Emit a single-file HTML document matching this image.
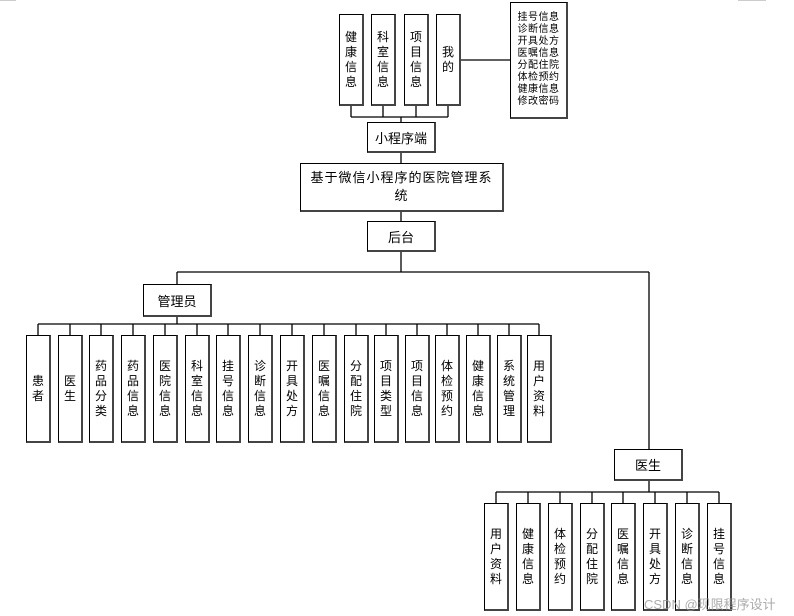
<!DOCTYPE html>
<html><head><meta charset="utf-8"><style>
body{margin:0;width:794px;height:616px;background:#fff;position:relative;overflow:hidden;font-family:"Liberation Sans","Noto Sans CJK SC",sans-serif;color:#000}
.b{position:absolute;box-sizing:border-box;border:1px solid #000;border-right:2px solid #444;border-bottom:2px solid #444;background:#fff;display:flex;align-items:center;justify-content:center;text-align:center}
.v{font-size:12px;line-height:15px;width:12px;word-break:break-all}
.h{font-size:13px}
svg{position:absolute;left:0;top:0}
</style></head><body>
<svg width="794" height="616">
<g stroke="#000" stroke-width="1.3" fill="none">
<line x1="351" y1="105" x2="351" y2="117"/><line x1="383" y1="105" x2="383" y2="117"/><line x1="416" y1="105" x2="416" y2="117"/><line x1="448" y1="105" x2="448" y2="117"/>
<line x1="351" y1="117" x2="448" y2="117"/><line x1="401" y1="117" x2="401" y2="122"/>
<line x1="461" y1="60" x2="510" y2="60"/>
<line x1="401" y1="152" x2="401" y2="163"/><line x1="401" y1="211" x2="401" y2="221"/><line x1="401" y1="251" x2="401" y2="272"/>
<line x1="177" y1="272" x2="649" y2="272"/><line x1="177" y1="272" x2="177" y2="284"/><line x1="649" y1="272" x2="649" y2="449"/>
<line x1="177" y1="317" x2="177" y2="324"/><line x1="38" y1="324" x2="539" y2="324"/>
<line x1="38" y1="324" x2="38" y2="335"/><line x1="70" y1="324" x2="70" y2="335"/><line x1="101" y1="324" x2="101" y2="335"/><line x1="133" y1="324" x2="133" y2="335"/><line x1="165" y1="324" x2="165" y2="335"/><line x1="197" y1="324" x2="197" y2="335"/><line x1="228" y1="324" x2="228" y2="335"/><line x1="260" y1="324" x2="260" y2="335"/><line x1="292" y1="324" x2="292" y2="335"/><line x1="324" y1="324" x2="324" y2="335"/><line x1="356" y1="324" x2="356" y2="335"/><line x1="386" y1="324" x2="386" y2="335"/><line x1="417" y1="324" x2="417" y2="335"/><line x1="447" y1="324" x2="447" y2="335"/><line x1="478" y1="324" x2="478" y2="335"/><line x1="509" y1="324" x2="509" y2="335"/><line x1="539" y1="324" x2="539" y2="335"/>
<line x1="649" y1="480" x2="649" y2="492"/><line x1="496" y1="492" x2="719" y2="492"/>
<line x1="496" y1="492" x2="496" y2="503"/><line x1="528" y1="492" x2="528" y2="503"/><line x1="560" y1="492" x2="560" y2="503"/><line x1="592" y1="492" x2="592" y2="503"/><line x1="623" y1="492" x2="623" y2="503"/><line x1="655" y1="492" x2="655" y2="503"/><line x1="687" y1="492" x2="687" y2="503"/><line x1="719" y1="492" x2="719" y2="503"/>
</g>
<line x1="0" y1="0.5" x2="16" y2="0.5" stroke="#ccc"/><line x1="738" y1="0.5" x2="766" y2="0.5" stroke="#ccc"/>
</svg>
<div class="b" style="left:339px;top:14px;width:25px;height:92px"><span class="v">健康信息</span></div>
<div class="b" style="left:371px;top:14px;width:25px;height:92px"><span class="v">科室信息</span></div>
<div class="b" style="left:404px;top:14px;width:25px;height:92px"><span class="v">项目信息</span></div>
<div class="b" style="left:436px;top:14px;width:25px;height:92px"><span class="v">我的</span></div>
<div class="b" style="left:510px;top:2px;width:58px;height:117px"><span style="font-size:10px;line-height:11.9px;letter-spacing:0.5px;width:44px">挂号信息诊断信息开具处方医嘱信息分配住院体检预约健康信息修改密码</span></div>
<div class="b h" style="left:367px;top:122px;width:69px;height:31px">小程序端</div>
<div class="b h" style="left:300px;top:163px;width:204px;height:49px"><span style="width:190px;line-height:18px;letter-spacing:1px">基于微信小程序的医院管理系统</span></div>
<div class="b h" style="left:367px;top:221px;width:69px;height:31px">后台</div>
<div class="b h" style="left:143px;top:284px;width:69px;height:33px">管理员</div>
<div class="b" style="left:26px;top:335px;width:25px;height:108px"><span class="v">患者</span></div>
<div class="b" style="left:58px;top:335px;width:25px;height:108px"><span class="v">医生</span></div>
<div class="b" style="left:89px;top:335px;width:25px;height:108px"><span class="v">药品分类</span></div>
<div class="b" style="left:121px;top:335px;width:25px;height:108px"><span class="v">药品信息</span></div>
<div class="b" style="left:153px;top:335px;width:25px;height:108px"><span class="v">医院信息</span></div>
<div class="b" style="left:185px;top:335px;width:25px;height:108px"><span class="v">科室信息</span></div>
<div class="b" style="left:216px;top:335px;width:25px;height:108px"><span class="v">挂号信息</span></div>
<div class="b" style="left:248px;top:335px;width:25px;height:108px"><span class="v">诊断信息</span></div>
<div class="b" style="left:280px;top:335px;width:25px;height:108px"><span class="v">开具处方</span></div>
<div class="b" style="left:312px;top:335px;width:25px;height:108px"><span class="v">医嘱信息</span></div>
<div class="b" style="left:344px;top:335px;width:25px;height:108px"><span class="v">分配住院</span></div>
<div class="b" style="left:374px;top:335px;width:25px;height:108px"><span class="v">项目类型</span></div>
<div class="b" style="left:405px;top:335px;width:25px;height:108px"><span class="v">项目信息</span></div>
<div class="b" style="left:435px;top:335px;width:25px;height:108px"><span class="v">体检预约</span></div>
<div class="b" style="left:466px;top:335px;width:25px;height:108px"><span class="v">健康信息</span></div>
<div class="b" style="left:497px;top:335px;width:25px;height:108px"><span class="v">系统管理</span></div>
<div class="b" style="left:527px;top:335px;width:25px;height:108px"><span class="v">用户资料</span></div>
<div class="b h" style="left:614px;top:449px;width:69px;height:32px">医生</div>
<div class="b" style="left:484px;top:503px;width:25px;height:108px"><span class="v">用户资料</span></div>
<div class="b" style="left:516px;top:503px;width:25px;height:108px"><span class="v">健康信息</span></div>
<div class="b" style="left:548px;top:503px;width:25px;height:108px"><span class="v">体检预约</span></div>
<div class="b" style="left:580px;top:503px;width:25px;height:108px"><span class="v">分配住院</span></div>
<div class="b" style="left:611px;top:503px;width:25px;height:108px"><span class="v">医嘱信息</span></div>
<div class="b" style="left:643px;top:503px;width:25px;height:108px"><span class="v">开具处方</span></div>
<div class="b" style="left:675px;top:503px;width:25px;height:108px"><span class="v">诊断信息</span></div>
<div class="b" style="left:707px;top:503px;width:25px;height:108px"><span class="v">挂号信息</span></div>
<div style="position:absolute;left:644px;top:594px;font-size:13px;color:rgba(150,150,150,0.8);white-space:nowrap">CSDN @现限程序设计</div>
</body></html>
